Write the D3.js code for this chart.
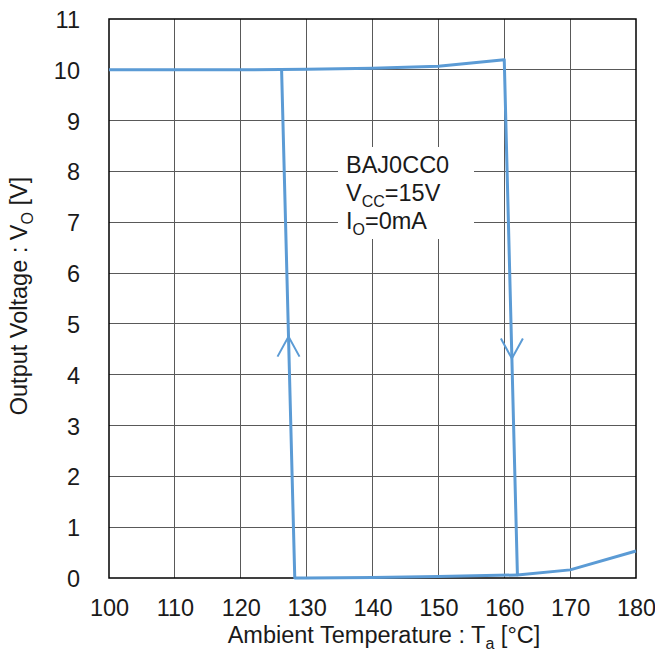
<!DOCTYPE html>
<html><head><meta charset="utf-8">
<script src="https://cdn.jsdelivr.net/npm/d3@7"></script>
<style>body{margin:0;background:#fff}svg{display:block}text{font-family:Arial,"Liberation Sans",sans-serif;fill:#1a1a1a}</style>
</head><body><svg id="c" width="655" height="662"></svg>
<script>
// Heating path (output high until trip, then low)
const heatT = [100, 110, 120, 130, 140, 150, 160, 162, 170, 180];
const heatV = [10.0, 10.0, 10.0, 10.01, 10.03, 10.07, 10.2, 0.06, 0.16, 0.53];
// Cooling path (output low until release, then high)
const coolT = [162, 150, 140, 130, 128.2, 126.2];
const coolV = [0.06, 0.03, 0.01, 0.0, 0.0, 10.0];
const xTicks = [100, 110, 120, 130, 140, 150, 160, 170, 180];
const yTicks = [0, 1, 2, 3, 4, 5, 6, 7, 8, 9, 10, 11];
const noteLines = ["BAJ0CC0", "V|CC|=15V", "I|O|=0mA"];

const svg = d3.select("#c");
const m = {l: 109, r: 636, t: 19, b: 578};
const x = d3.scaleLinear().domain([100, 180]).range([m.l, m.r]);
const y = d3.scaleLinear().domain([0, 11]).range([m.b, m.t]);
const col = "#5b9bd5";
const FS = 23.5, SFS = 16;

// grid
const g = svg.append("g");
g.selectAll(".vx").data(xTicks.slice(1, -1)).join("line")
  .attr("x1", d => x(d)).attr("x2", d => x(d)).attr("y1", m.t).attr("y2", m.b)
  .attr("stroke", "#595959").attr("stroke-width", 1).attr("shape-rendering", "crispEdges");
g.selectAll(".hy").data(yTicks.slice(1, -1)).join("line")
  .attr("y1", d => y(d)).attr("y2", d => y(d)).attr("x1", m.l).attr("x2", m.r)
  .attr("stroke", "#595959").attr("stroke-width", 1).attr("shape-rendering", "crispEdges");

// note box (white, covers grid)
const nx = 338, ny = 147, nw = 136, nh = 92;
svg.append("rect").attr("x", nx).attr("y", ny).attr("width", nw).attr("height", nh).attr("fill", "#fff");

// frame
svg.append("rect").attr("x", m.l).attr("y", m.t).attr("width", m.r - m.l).attr("height", m.b - m.t)
  .attr("fill", "none").attr("stroke", "#000").attr("stroke-width", 1.5);

// axes tick labels
const xa = d3.axisBottom(x).tickValues(xTicks).tickSize(0).tickPadding(0);
const xg = svg.append("g").attr("transform", `translate(0,${m.b})`).call(xa);
xg.select(".domain").remove();
xg.selectAll("text").attr("dy", null).attr("y", 38).attr("font-size", FS).attr("fill", "#1a1a1a")
  .attr("font-family", "Arial, 'Liberation Sans', sans-serif");
const ya = d3.axisLeft(y).tickValues(yTicks).tickSize(0).tickPadding(0);
const yg = svg.append("g").attr("transform", `translate(${m.l},0)`).call(ya);
yg.select(".domain").remove();
yg.selectAll("text").attr("x", -29).attr("dy", "0.36em").attr("font-size", FS).attr("fill", "#1a1a1a")
  .attr("font-family", "Arial, 'Liberation Sans', sans-serif");

// curves
const line = d3.line().x(d => x(d[0])).y(d => y(d[1]));
svg.append("path").datum(heatT.map((t, i) => [t, heatV[i]])).attr("d", line)
  .attr("fill", "none").attr("stroke", col).attr("stroke-width", 3).attr("stroke-linejoin", "round");
svg.append("path").datum(coolT.map((t, i) => [t, coolV[i]])).attr("d", line)
  .attr("fill", "none").attr("stroke", col).attr("stroke-width", 3).attr("stroke-linejoin", "round");

// arrows on vertical segments
function arrow(t0, v0, t1, v1, frac, dir) {
  const px = x(t0 + (t1 - t0) * frac), py = y(v0 + (v1 - v0) * frac);
  const d = dir * 20;
  svg.append("path").attr("d", `M${px - 11},${py + d} L${px},${py} L${px + 11},${py + d}`)
    .attr("fill", "none").attr("stroke", col).attr("stroke-width", 2);
}
arrow(128.2, 0, 126.2, 10, 0.475, 1);   // up arrow
arrow(160, 10.2, 162, 0.06, 0.58, -1); // down arrow

// note text
const nt = svg.append("g");
noteLines.forEach((s, i) => {
  const parts = s.split("|");
  const t = nt.append("text").attr("x", 346).attr("y", 173 + i * 28).attr("font-size", FS);
  t.append("tspan").text(parts[0]);
  if (parts.length > 1) {
    t.append("tspan").attr("font-size", SFS).attr("dy", 6).text(parts[1]);
    t.append("tspan").attr("dy", -6).text(parts[2]);
  }
});

// axis titles
const xt = svg.append("text").attr("x", 384).attr("y", 643).attr("text-anchor", "middle").attr("font-size", FS);
xt.append("tspan").text("Ambient Temperature : T");
xt.append("tspan").attr("font-size", SFS).attr("dy", 6).text("a");
xt.append("tspan").attr("dy", -6).text(" [°C]");
const yt = svg.append("text").attr("transform", `translate(27,296) rotate(-90)`)
  .attr("text-anchor", "middle").attr("font-size", FS);
yt.append("tspan").text("Output Voltage : V");
yt.append("tspan").attr("font-size", SFS).attr("dy", 6).text("O");
yt.append("tspan").attr("dy", -6).text(" [V]");
</script></body></html>
